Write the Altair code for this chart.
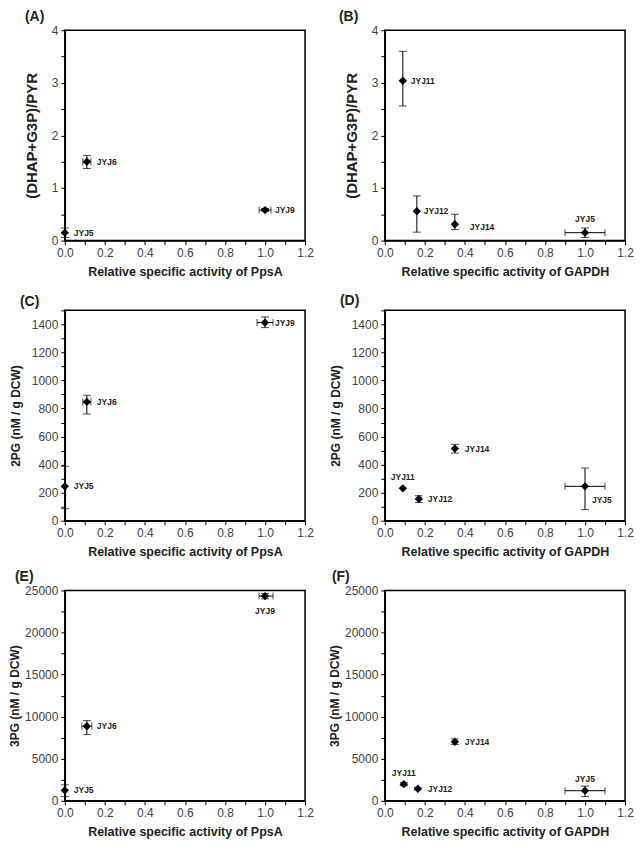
import altair as alt
import pandas as pd

FONT = "Liberation Sans"

# ---------------- data ----------------
# (A) (DHAP+G3P)/PYR vs relative PpsA activity
a_strain = ["JYJ5", "JYJ6", "JYJ9"]
a_x = [0.0, 0.11, 1.0]
a_xlo = [0.0, 0.09, 0.97]
a_xhi = [0.0, 0.13, 1.03]
a_y = [0.15, 1.50, 0.58]
a_ylo = [0.06, 1.37, 0.55]
a_yhi = [0.24, 1.62, 0.61]

# (B) (DHAP+G3P)/PYR vs relative GAPDH activity
b_strain = ["JYJ11", "JYJ12", "JYJ14", "JYJ5"]
b_x = [0.09, 0.16, 0.35, 1.0]
b_xlo = [0.09, 0.16, 0.35, 0.90]
b_xhi = [0.09, 0.16, 0.35, 1.10]
b_y = [3.04, 0.56, 0.31, 0.15]
b_ylo = [2.56, 0.16, 0.21, 0.06]
b_yhi = [3.60, 0.85, 0.50, 0.24]

# (C) 2PG vs relative PpsA activity
c_strain = ["JYJ5", "JYJ6", "JYJ9"]
c_x = [0.0, 0.11, 1.0]
c_xlo = [0.0, 0.09, 0.96]
c_xhi = [0.0, 0.13, 1.04]
c_y = [245, 847, 1413]
c_ylo = [86, 761, 1377]
c_yhi = [388, 895, 1453]

# (D) 2PG vs relative GAPDH activity
d_strain = ["JYJ11", "JYJ12", "JYJ14", "JYJ5"]
d_x = [0.09, 0.17, 0.35, 1.0]
d_xlo = [0.09, 0.17, 0.35, 0.90]
d_xhi = [0.09, 0.17, 0.35, 1.10]
d_y = [231, 155, 514, 245]
d_ylo = [231, 130, 482, 79]
d_yhi = [231, 178, 545, 376]

# (E) 3PG vs relative PpsA activity
e_strain = ["JYJ5", "JYJ6", "JYJ9"]
e_x = [0.0, 0.11, 1.0]
e_xlo = [0.0, 0.085, 0.97]
e_xhi = [0.0, 0.135, 1.04]
e_y = [1250, 8860, 24330]
e_ylo = [500, 7870, 24000]
e_yhi = [1900, 9530, 24650]

# (F) 3PG vs relative GAPDH activity
f_strain = ["JYJ11", "JYJ12", "JYJ14", "JYJ5"]
f_x = [0.095, 0.165, 0.35, 1.0]
f_xlo = [0.095, 0.165, 0.35, 0.90]
f_xhi = [0.095, 0.165, 0.35, 1.10]
f_y = [1980, 1430, 7020, 1200]
f_ylo = [1800, 1300, 6700, 500]
f_yhi = [2160, 1560, 7350, 1750]

# label placement (pixel offsets from the point; style only)
a_lab = [(9, 0, "left"), (10, 0, "left"), (10, 0, "left")]
b_lab = [(8, 0, "left"), (7, 0, "left"), (15, 3, "left"), (0, -14, "center")]
c_lab = [(9, 0, "left"), (10, 0, "left"), (10, 0, "left")]
d_lab = [(0, -11, "center"), (9, 0, "left"), (10, 0, "left"), (7, 14, "left")]
e_lab = [(9, 0, "left"), (10, 0, "left"), (0, 15, "center")]
f_lab = [(0, -11, "center"), (10, 0, "left"), (10, 0, "left"), (0, -12, "center")]

X_PPSA = "Relative specific activity of PpsA"
X_GAPDH = "Relative specific activity of GAPDH"
Y_RATIO = "(DHAP+G3P)/PYR"
Y_2PG = "2PG (nM / g DCW)"
Y_3PG = "3PG (nM / g DCW)"

W, H = 241, 211


def make_panel(letter, strains, x, xlo, xhi, y, ylo, yhi, labs,
               xtitle, ytitle, ymax, ystep, ymajor, ytitle_x, ytitle_size,
               title_dx, title_dy):
    df = pd.DataFrame(dict(strain=strains, x=x, xlo=xlo, xhi=xhi,
                           y=y, ylo=ylo, yhi=yhi))
    xvals = [round(i * 0.1, 1) for i in range(13)]
    nY = int(round(ymax / ystep))
    yvals = [round(i * ystep, 3) for i in range(nY + 1)]
    xaxis = alt.Axis(values=xvals, title=xtitle, titleFontSize=12.5,
                     labelExpr="round(datum.value*10) % 2 == 0 ? format(datum.value, '.1f') : ''",
                     labelPadding=3, titlePadding=7)
    yaxis = alt.Axis(values=yvals, title=ytitle, titleFontSize=ytitle_size,
                     labelExpr=f"abs(datum.value/{ymajor} - round(datum.value/{ymajor})) < 0.001 ? format(datum.value, 'd') : ''",
                     labelPadding=3, titleX=ytitle_x)
    xs = alt.Scale(domain=[0, 1.2], nice=False, zero=False)
    ys = alt.Scale(domain=[0, ymax], nice=False, zero=False)

    base = alt.Chart(df)
    yerr = base.transform_filter("datum.yhi > datum.ylo").mark_errorbar(
        ticks={"size": 8}, color="black", thickness=1
    ).encode(
        x=alt.X("x:Q", scale=xs, axis=xaxis),
        y=alt.Y("ylo:Q", scale=ys, axis=yaxis),
        y2="yhi:Q",
    )
    xerr = base.transform_filter("datum.xhi > datum.xlo").mark_errorbar(
        ticks={"size": 7}, color="black", thickness=1
    ).encode(
        y=alt.Y("y:Q", scale=ys, axis=yaxis),
        x=alt.X("xlo:Q", scale=xs, axis=xaxis),
        x2="xhi:Q",
    )
    pts = base.mark_point(shape="diamond", filled=True, size=70,
                          color="black", opacity=1).encode(
        x=alt.X("x:Q", scale=xs, axis=xaxis),
        y=alt.Y("y:Q", scale=ys, axis=yaxis),
    )
    layers = [yerr, xerr, pts]
    for s, (dx, dy, al) in zip(strains, labs):
        layers.append(
            base.transform_filter(alt.datum.strain == s).mark_text(
                dx=dx, dy=dy, align=al, baseline="middle", font=FONT,
                fontSize=8.5, fontWeight="bold", color="#222"
            ).encode(
                x=alt.X("x:Q", scale=xs, axis=xaxis),
                y=alt.Y("y:Q", scale=ys, axis=yaxis),
                text="strain:N",
            )
        )
    return alt.layer(*layers).properties(
        width=W, height=H,
        title=alt.TitleParams(text=letter, anchor="start", frame="group",
                              dx=title_dx, dy=title_dy, offset=0, fontSize=14,
                              fontWeight="bold", color="#222", font=FONT),
    )


pA = make_panel("(A)", a_strain, a_x, a_xlo, a_xhi, a_y, a_ylo, a_yhi, a_lab,
                X_PPSA, Y_RATIO, 4, 0.5, 1, -25, 15, -40, 0)
pB = make_panel("(B)", b_strain, b_x, b_xlo, b_xhi, b_y, b_ylo, b_yhi, b_lab,
                X_GAPDH, Y_RATIO, 4, 0.5, 1, -25, 15, -46, 0)
pC = make_panel("(C)", c_strain, c_x, c_xlo, c_xhi, c_y, c_ylo, c_yhi, c_lab,
                X_PPSA, Y_2PG, 1500, 100, 200, -42, 12, -45, 5)
pD = make_panel("(D)", d_strain, d_x, d_xlo, d_xhi, d_y, d_ylo, d_yhi, d_lab,
                X_GAPDH, Y_2PG, 1500, 100, 200, -42, 12, -45, 4)
pE = make_panel("(E)", e_strain, e_x, e_xlo, e_xhi, e_y, e_ylo, e_yhi, e_lab,
                X_PPSA, Y_3PG, 25000, 2500, 5000, -43, 12, -50, -1)
pF = make_panel("(F)", f_strain, f_x, f_xlo, f_xhi, f_y, f_ylo, f_yhi, f_lab,
                X_GAPDH, Y_3PG, 25000, 2500, 5000, -43, 12, -53, 0)

chart = alt.concat(pA, pB, pC, pD, pE, pF, columns=2,
                   spacing={"row": 70, "column": 80}, bounds="flush").properties(
    padding=0
).configure_view(
    stroke="black", strokeWidth=1.5
).configure_axis(
    domainColor="black", domainWidth=1.5, tickColor="black", tickWidth=1,
    tickSize=4, labelFont=FONT, labelFontSize=12, labelColor="#444",
    titleFont=FONT, titleFontWeight="bold", titleColor="#222", grid=False,
    labelFlush=False, labelOverlap=False
)

chart.save("out.html", embed_options={"renderer": "svg", "actions": False})
